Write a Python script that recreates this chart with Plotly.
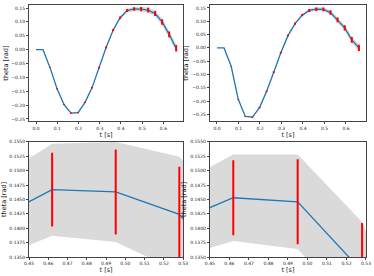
import plotly.graph_objects as go

# ---- data ----
t = [0.000, 0.033, 0.066, 0.099, 0.132, 0.165, 0.198, 0.231, 0.264, 0.297, 0.330,
     0.363, 0.396, 0.429, 0.462, 0.495, 0.528, 0.561, 0.594, 0.627, 0.660]

theta_left = [0.000, 0.000, -0.065, -0.141, -0.198, -0.229, -0.227, -0.190, -0.137, -0.065, 0.008,
              0.070, 0.115, 0.1409, 0.1467, 0.1463, 0.1424, 0.130, 0.100, 0.055, 0.005]
spread_left = [0.0, 0.0, 0.0012, 0.0015, 0.0018, 0.002, 0.0022, 0.0025, 0.003, 0.0032, 0.0035,
               0.004, 0.0045, 0.0055, 0.0064, 0.0074, 0.0083, 0.009, 0.0098, 0.0105, 0.012]
band_left = [0.0, 0.0, 0.0015, 0.002, 0.0022, 0.0025, 0.0028, 0.003, 0.0035, 0.004, 0.0045,
             0.005, 0.0055, 0.0068, 0.0080, 0.0087, 0.0100, 0.0108, 0.0118, 0.0128, 0.014]

theta_right = [0.000, 0.000, -0.069, -0.193, -0.257, -0.260, -0.224, -0.163, -0.091, -0.018, 0.046,
               0.091, 0.123, 0.1406, 0.1453, 0.1446, 0.1325, 0.105, 0.075, 0.030, 0.000]
spread_right = [0.0, 0.0, 0.0012, 0.0015, 0.0018, 0.002, 0.0022, 0.0025, 0.003, 0.0032, 0.0035,
                0.004, 0.0045, 0.0055, 0.0065, 0.0074, 0.0084, 0.009, 0.0098, 0.0105, 0.012]
band_right = [0.0, 0.0, 0.0015, 0.002, 0.0022, 0.0025, 0.0028, 0.003, 0.0035, 0.004, 0.0045,
              0.005, 0.0055, 0.0062, 0.0075, 0.0082, 0.0086, 0.0095, 0.0105, 0.0115, 0.013]

x_ticks_top = [0.0, 0.1, 0.2, 0.3, 0.4, 0.5, 0.6]
y_ticks_top = [0.15, 0.10, 0.05, 0.00, -0.05, -0.10, -0.15, -0.20, -0.25]
x_ticks_bottom = [0.45, 0.46, 0.47, 0.48, 0.49, 0.50, 0.51, 0.52, 0.53]
y_ticks_bottom = [0.1350, 0.1375, 0.1400, 0.1425, 0.1450, 0.1475, 0.1500, 0.1525, 0.1550]

BLUE = "#1f77b4"
RED = "#ff0000"
GRAY = "rgba(205,205,205,0.75)"

fig = go.Figure()

# subplot axis ids: 1=TL, 2=TR, 3=BL, 4=BR
panels = [
    ("x", "y", theta_left, spread_left, band_left),
    ("x2", "y2", theta_right, spread_right, band_right),
    ("x3", "y3", theta_left, spread_left, band_left),
    ("x4", "y4", theta_right, spread_right, band_right),
]

for xa, ya, th, sp, bd in panels:
    upper = [v + b for v, b in zip(th, bd)]
    lower = [v - b for v, b in zip(th, bd)]
    fig.add_trace(go.Scatter(x=t, y=upper, mode="lines", line=dict(width=0, color=GRAY),
                             xaxis=xa, yaxis=ya, showlegend=False, hoverinfo="skip"))
    fig.add_trace(go.Scatter(x=t, y=lower, mode="lines", line=dict(width=0, color=GRAY),
                             fill="tonexty", fillcolor=GRAY,
                             xaxis=xa, yaxis=ya, showlegend=False, hoverinfo="skip"))
    fig.add_trace(go.Scatter(x=t, y=th, mode="lines", line=dict(width=1.3, color=BLUE),
                             xaxis=xa, yaxis=ya, showlegend=False))
    bx, by = [], []
    for ti, v, s in zip(t, th, sp):
        if s > 0:
            bx += [ti, ti, None]
            by += [v - s, v + s, None]
    fig.add_trace(go.Scatter(x=bx, y=by, mode="lines", line=dict(width=2, color=RED),
                             xaxis=xa, yaxis=ya, showlegend=False, connectgaps=False))

FONT = "DejaVu Sans"
ax_common = dict(showline=True, linecolor="#444", linewidth=1, mirror=True,
                 ticks="outside", ticklen=2, tickwidth=0.6, tickcolor="#444",
                 showgrid=False, zeroline=False,
                 tickfont=dict(family=FONT, size=4.5, color="#222"))
title_font = dict(family=FONT, size=6.5, color="#222")

xl = [0.0, 0.4575]
xr = [0.5367, 1.0]
yt = [0.539, 1.0]
yb = [0.0, 0.4567]

fig.update_layout(
    width=374, height=276,
    margin=dict(l=26, r=7, t=3, b=19),
    paper_bgcolor="white", plot_bgcolor="white",
    xaxis=dict(domain=xl, anchor="y", range=[-0.033, 0.693], tickvals=x_ticks_top,
               tickformat=".1f", title=dict(text="t [s]", font=title_font, standoff=2), **ax_common),
    yaxis=dict(domain=yt, anchor="x", range=[-0.258, 0.161], tickvals=y_ticks_top,
               tickformat=".2f", title=dict(text="theta [rad]", font=title_font, standoff=2), **ax_common),
    xaxis2=dict(domain=xr, anchor="y2", range=[-0.033, 0.693], tickvals=x_ticks_top,
                tickformat=".1f", title=dict(text="t [s]", font=title_font, standoff=2), **ax_common),
    yaxis2=dict(domain=yt, anchor="x2", range=[-0.275, 0.161], tickvals=y_ticks_top,
                tickformat=".2f", title=dict(text="theta [rad]", font=title_font, standoff=2), **ax_common),
    xaxis3=dict(domain=xl, anchor="y3", range=[0.45, 0.53], tickvals=x_ticks_bottom,
                tickformat=".2f", title=dict(text="t [s]", font=title_font, standoff=2), **ax_common),
    yaxis3=dict(domain=yb, anchor="x3", range=[0.135, 0.155], tickvals=y_ticks_bottom,
                tickformat=".4f", title=dict(text="theta [rad]", font=title_font, standoff=2), **ax_common),
    xaxis4=dict(domain=xr, anchor="y4", range=[0.45, 0.53], tickvals=x_ticks_bottom,
                tickformat=".2f", title=dict(text="t [s]", font=title_font, standoff=2), **ax_common),
    yaxis4=dict(domain=yb, anchor="x4", range=[0.135, 0.155], tickvals=y_ticks_bottom,
                tickformat=".4f", title=dict(text="theta [rad]", font=title_font, standoff=2), **ax_common),
)

fig.write_html("out.html", config={"displayModeBar": False},
               post_script="document.body.style.margin='0';document.body.style.overflow='hidden';")
